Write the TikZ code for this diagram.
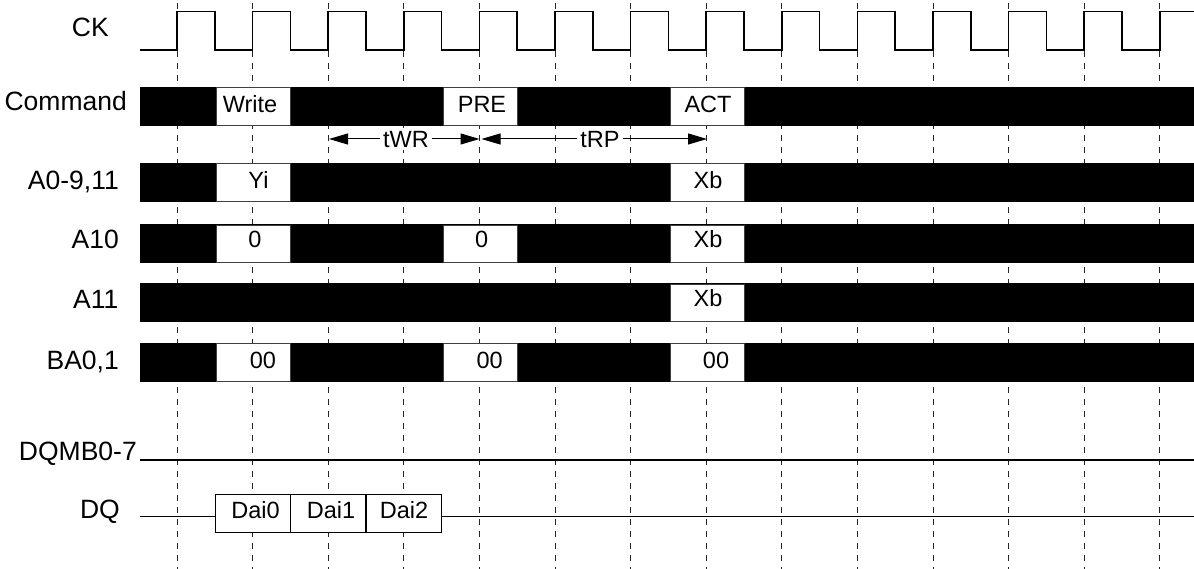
\documentclass[tikz,border=0pt]{standalone}
\usepackage{fontspec}
\setmainfont{Liberation Sans}
\usetikzlibrary{arrows.meta}
\begin{document}
\begin{tikzpicture}[x=1pt,y=-1pt,
  lbl/.style={anchor=east, inner sep=0pt, font=\fontsize{26.5}{26.5}\selectfont, text height=19pt, text depth=0pt},
  bar/.style={fill=black, inner sep=0pt, anchor=west, minimum width=1054pt, minimum height=38.8pt},
  cbox/.style={draw=black!75, line width=0.6pt, fill=white, minimum width=74pt, minimum height=37.6pt, inner sep=0pt},
  btxt/.style={inner sep=0pt, font=\fontsize{23.5}{23.5}\selectfont, text height=16.8pt, text depth=0pt},
  dqbox/.style={draw=black, line width=1.2pt, fill=white, minimum width=75.5pt, minimum height=38.4pt, inner sep=0pt},
  grid/.style={dash pattern=on 5.5pt off 6.5pt, line width=0.9pt, black!85},
  sig/.style={line width=1.5pt},
  tim/.style={line width=1pt, -{Triangle[length=19pt,width=11pt]}},
  ttxt/.style={fill=white, inner sep=3pt, font=\fontsize{23.5}{23.5}\selectfont, text height=16.8pt, text depth=0pt}
]
\useasboundingbox (0,0) rectangle (1194,569);
% grid
\foreach \k in {0,...,13}{
  \draw[grid] ({177+75.6*\k},3.3) -- ({177+75.6*\k},569);
}
% clock
\draw[sig] (140,50) \foreach \k in {0,...,12}{
  -- ({177+75.6*\k},50) -- ({177+75.6*\k},11.7) -- ({214.8+75.6*\k},11.7) -- ({214.8+75.6*\k},50)}
  -- (1159.8,50) -- (1159.8,11.7) -- (1194,11.7);
% labels
\node[lbl] (lck) at (109,26.7) {CK};
\node[lbl] (lcmd) at (127,101.3) {Command};
\node[lbl] (la0) at (119,180) {A0-9,11};
\node[lbl] (la10) at (119,239) {A10};
\node[lbl] (la11) at (118.5,299) {A11};
\node[lbl] (lba) at (119,360) {BA0,1};
\node[lbl] (ldqm) at (137,450.5) {DQMB0-7};
\node[lbl] (ldq) at (120,509) {DQ};
% bars
\node[bar] (bcmd) at (140,106.3) {};
\node[bar] (ba0) at (140,182.2) {};
\node[bar] (ba10) at (140,243.8) {};
\node[bar] (ba11) at (140,302.8) {};
\node[bar] (bba) at (140,362.5) {};
% Command boxes
\node[cbox] (c1) at (253.7,106.3) {};
\node[btxt] (c1t) at (250,104) {Write};
\node[cbox] (c2) at (480.3,106.3) {};
\node[btxt] (c2t) at (482,104) {PRE};
\node[cbox] (c3) at (707.2,106.3) {};
\node[btxt] (c3t) at (708,104) {ACT};
% A0-9,11
\node[cbox] (a1) at (253.7,182.2) {};
\node[btxt] (a1t) at (258.5,180) {Yi};
\node[cbox] (a2) at (707.2,182.2) {};
\node[btxt] (a2t) at (708,180) {Xb};
% A10
\node[cbox] (d1) at (253.7,243.8) {};
\node[btxt] (d1t) at (255,239) {0};
\node[cbox] (d2) at (480.3,243.8) {};
\node[btxt] (d2t) at (481.7,239) {0};
\node[cbox] (d3) at (707.2,243.8) {};
\node[btxt] (d3t) at (708,239.5) {Xb};
% A11
\node[cbox] (e1) at (707.2,302.8) {};
\node[btxt] (e1t) at (708,298.5) {Xb};
% BA0,1
\node[cbox] (f1) at (253.7,362.5) {};
\node[btxt] (f1t) at (263,360) {00};
\node[cbox] (f2) at (480.3,362.5) {};
\node[btxt] (f2t) at (489.7,360) {00};
\node[cbox] (f3) at (707.2,362.5) {};
\node[btxt] (f3t) at (716,360) {00};
% timing arrows
\coordinate (wr1) at (329,139);
\coordinate (wr2) at (479.5,139);
\coordinate (rp1) at (481.5,139);
\coordinate (rp2) at (707,139);
\node[ttxt] (twr) at (406,139) {tWR};
\node[ttxt] (trp) at (600,139) {tRP};
\draw[tim] (twr) -- (wr1);
\draw[tim] (twr) -- (wr2);
\draw[tim] (trp) -- (rp1);
\draw[tim] (trp) -- (rp2);
% DQMB line
\coordinate (m0) at (140,460);
\coordinate (m1) at (1194,460);
\draw[sig] (m0) -- (m1);
% DQ
\coordinate (q0) at (140,516.7);
\coordinate (q1) at (1194,516.7);
\node[dqbox] (q2) at (252.85,513.5) {};
\node[dqbox] (q3) at (328.2,513.5) {};
\node[dqbox] (q4) at (403.85,513.5) {};
\node[btxt] at (255.5,510) {Dai0};
\node[btxt] at (331,510) {Dai1};
\node[btxt] at (404,510) {Dai2};
\draw[sig] (q0) -- (q2.west |- q0);
\draw[sig] (q4.east |- q1) -- (q1);
\end{tikzpicture}
\end{document}
